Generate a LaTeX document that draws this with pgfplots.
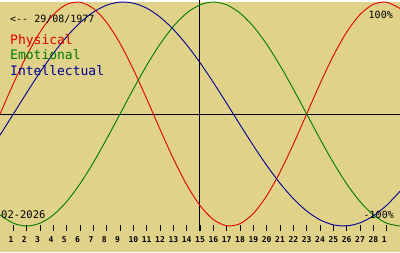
\documentclass[border=0pt]{standalone}
\usepackage{pgfplots}
\pgfplotsset{compat=1.18}
\usepackage{fontspec}
\setmonofont{DejaVu Sans Mono}
\definecolor{bg}{RGB}{224,210,136}
\definecolor{pred}{RGB}{226,0,0}
\definecolor{pgreen}{RGB}{0,122,0}
\definecolor{pblue}{RGB}{0,0,150}
\begin{document}
\begin{tikzpicture}[x=1pt,y=1pt]
\fill[bg] (0,0) rectangle (400,250);
\begin{axis}[
  at={(0,19)}, anchor=south west,
  scale only axis, width=400pt, height=231pt,
  xmin=0, xmax=30, ymin=-1.0446, ymax=1.0179,
  axis line style={draw=none},
  ytick=\empty,
  xtick={1,2,3,4,5,6,7,8,9,10,11,12,13,14,15,16,17,18,19,20,21,22,23,24,25,26,27,28,29},
  xticklabels={1,2,3,4,5,6,7,8,9,10,11,12,13,14,15,16,17,18,19,20,21,22,23,24,25,26,27,28,1},
  xtick pos=bottom,
  tick align=inside,
  major tick length=6pt,
  tick style={black, line width=0.9pt},
  xticklabel style={anchor=north west, inner sep=0pt, xshift=-5pt, yshift=-5pt,
    font=\ttfamily\bfseries\fontsize{8}{9}\selectfont},
  clip=true,
]
\addplot[black, line width=1pt] coordinates {(0,0) (30,0)};
\addplot[black, line width=1pt] coordinates {(15,1.0179) (15,-1.0446)};
\addplot[pred, line width=0.9pt, smooth] coordinates {
(0,0) (1,0.2698) (2,0.5196) (3,0.7308) (4,0.8879) (5,0.9791) (6,0.9977) (7,0.9423) (8,0.8170) (9,0.6311) (10,0.3984) (11,0.1362) (12,-0.1362) (13,-0.3984) (14,-0.6311) (15,-0.8170) (16,-0.9423) (17,-0.9977) (18,-0.9791) (19,-0.8879) (20,-0.7308) (21,-0.5196) (22,-0.2698) (23,0) (24,0.2698) (25,0.5196) (26,0.7308) (27,0.8879) (28,0.9791) (29,0.9977) (30,0.9423)};
\addplot[pgreen, line width=0.9pt, smooth] coordinates {
(0,-0.9010) (1,-0.9749) (2,-1) (3,-0.9749) (4,-0.9010) (5,-0.7818) (6,-0.6235) (7,-0.4339) (8,-0.2225) (9,0) (10,0.2225) (11,0.4339) (12,0.6235) (13,0.7818) (14,0.9010) (15,0.9749) (16,1) (17,0.9749) (18,0.9010) (19,0.7818) (20,0.6235) (21,0.4339) (22,0.2225) (23,0) (24,-0.2225) (25,-0.4339) (26,-0.6235) (27,-0.7818) (28,-0.9010) (29,-0.9749) (30,-1)};
\addplot[pblue, line width=0.9pt, smooth] coordinates {
(0,-0.1893) (1,0) (2,0.1893) (3,0.3717) (4,0.5406) (5,0.6901) (6,0.8146) (7,0.9096) (8,0.9718) (9,0.9989) (10,0.9898) (11,0.9450) (12,0.8660) (13,0.7557) (14,0.6182) (15,0.4582) (16,0.2817) (17,0.0951) (18,-0.0951) (19,-0.2817) (20,-0.4582) (21,-0.6182) (22,-0.7557) (23,-0.8660) (24,-0.9450) (25,-0.9898) (26,-0.9989) (27,-0.9718) (28,-0.9096) (29,-0.8146) (30,-0.6901)};
\end{axis}
\node[anchor=base west, inner sep=0pt, font=\ttfamily\fontsize{10}{10}\selectfont] at (10,230) {<-{}- 29/08/1977};
\node[anchor=base west, inner sep=0pt, text=pred, font=\ttfamily\fontsize{13}{13}\selectfont] at (10,208) {Physical};
\node[anchor=base west, inner sep=0pt, text=pgreen, font=\ttfamily\fontsize{13}{13}\selectfont] at (10,193) {Emotional};
\node[anchor=base west, inner sep=0pt, text=pblue, font=\ttfamily\fontsize{13}{13}\selectfont] at (10,177) {Intellectual};
\node[anchor=base east, inner sep=0pt, font=\ttfamily\fontsize{10}{10}\selectfont] at (393,234) {100\%};
\node[anchor=base east, inner sep=0pt, font=\ttfamily\fontsize{10}{10}\selectfont] at (394,34) {-100\%};
\node[anchor=base west, inner sep=0pt, font=\ttfamily\fontsize{10.5}{10}\selectfont] at (1,34) {02-2026};
\end{tikzpicture}
\end{document}
